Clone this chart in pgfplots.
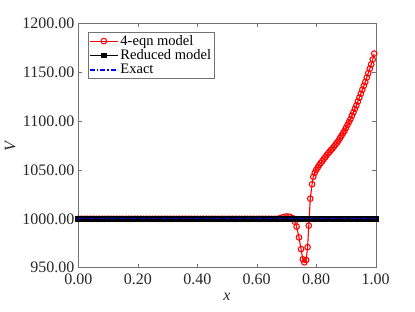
\documentclass[border=0pt]{standalone}
\usepackage{fontspec}
\setmainfont{Liberation Serif}
\usepackage{pgfplots}
\pgfplotsset{compat=1.18}
\begin{document}
\begin{tikzpicture}
\begin{axis}[
  set layers=standard,
  at={(0pt,0pt)}, anchor=south west,
  scale only axis, width=297.4pt, height=244.4pt,
  xmin=0, xmax=1, ymin=950, ymax=1200,
  xtick={0,0.2,0.4,0.6,0.8,1}, ytick={950,1000,...,1200},
  tick align=inside, major tick length=3.5pt,
  axis line style={black!55}, every tick/.style={black!55},
  tick label style={font=\fontsize{16}{18}\selectfont, black!85},
  xticklabel style={yshift=-2.5pt, /pgf/number format/fixed, /pgf/number format/fixed zerofill, /pgf/number format/precision=2},
  yticklabel style={xshift=-0.5pt, /pgf/number format/fixed, /pgf/number format/fixed zerofill, /pgf/number format/precision=2, /pgf/number format/1000 sep={}},
  /pgf/number format/assume math mode=true,
  xlabel={\textit{x}}, ylabel={\textit{V}},
  label style={font=\fontsize{16}{18}\selectfont, black!85},
  xlabel style={at={(axis description cs:0.5,-0.12)}, anchor=center},
  ylabel style={at={(axis description cs:-0.229,0.5)}, anchor=center, rotate=0},
  clip=false,
  legend cell align=left,
  legend style={at={(0.0326,0.964)}, anchor=north west, draw=black!55, font=\fontsize{14.5}{15.5}\selectfont, inner sep=1pt, row sep=-1pt},
  legend image code/.code={\draw[mark repeat=2,mark phase=2,#1] plot coordinates {(0pt,0pt) (14pt,0pt) (28pt,0pt)};},
]
\addplot[red, line width=1.1pt, mark=o, mark size=2.8pt, mark options={line width=1.05pt}] coordinates {
(0.00,1000)(0.01,1000)(0.02,1000)(0.03,1000)(0.04,1000)(0.05,1000)(0.06,1000)(0.07,1000)(0.08,1000)(0.09,1000)
(0.10,1000)(0.11,1000)(0.12,1000)(0.13,1000)(0.14,1000)(0.15,1000)(0.16,1000)(0.17,1000)(0.18,1000)(0.19,1000)
(0.20,1000)(0.21,1000)(0.22,1000)(0.23,1000)(0.24,1000)(0.25,1000)(0.26,1000)(0.27,1000)(0.28,1000)(0.29,1000)
(0.30,1000)(0.31,1000)(0.32,1000)(0.33,1000)(0.34,1000)(0.35,1000)(0.36,1000)(0.37,1000)(0.38,1000)(0.39,1000)
(0.40,1000)(0.41,1000)(0.42,1000)(0.43,1000)(0.44,1000)(0.45,1000)(0.46,1000)(0.47,1000)(0.48,1000)(0.49,1000)
(0.50,1000)(0.51,1000)(0.52,1000)(0.53,1000)(0.54,1000)(0.55,1000)(0.56,1000)(0.57,1000)(0.58,1000)(0.59,1000)
(0.60,1000)(0.61,1000)(0.62,1000)(0.63,1000)(0.64,1000)(0.65,1000)(0.66,1000)(0.67,1000)
(0.68,1000.8)(0.69,1001.8)(0.70,1002.5)(0.71,1002.2)(0.72,1000.8)
(0.728,997)(0.734,992)(0.742,981)(0.749,969)(0.755,958.6)(0.760,955.5)(0.766,957.9)(0.771,971)(0.775,993)
(0.780,1020.6)(0.786,1035.3)(0.790,1043)(0.795,1047)(0.800,1050)(0.805,1052.5)(0.810,1055)(0.815,1057)
(0.820,1059)(0.825,1061)(0.830,1063)(0.835,1065)(0.840,1067)(0.845,1068.5)(0.850,1070.5)(0.855,1072)
(0.860,1074)(0.865,1076)(0.870,1078)(0.875,1080)(0.880,1082.5)(0.885,1085)(0.890,1087.5)(0.895,1090)
(0.900,1093)(0.905,1096)(0.910,1099)(0.915,1102)(0.920,1105.5)(0.925,1109)(0.930,1112.5)(0.935,1116)
(0.940,1120)(0.945,1124)(0.950,1128)(0.955,1132)(0.960,1136)(0.965,1140)(0.970,1144.5)(0.975,1149)
(0.980,1153.5)(0.985,1158)(0.990,1163)(0.995,1169)
};
\addlegendentry{4-eqn model}
\addplot[black, line width=1pt, mark=square*, mark size=2.3pt, mark options={fill=black}] coordinates {
(0.00,1000)(0.01,1000)(0.02,1000)(0.03,1000)(0.04,1000)(0.05,1000)(0.06,1000)(0.07,1000)(0.08,1000)(0.09,1000)
(0.10,1000)(0.11,1000)(0.12,1000)(0.13,1000)(0.14,1000)(0.15,1000)(0.16,1000)(0.17,1000)(0.18,1000)(0.19,1000)
(0.20,1000)(0.21,1000)(0.22,1000)(0.23,1000)(0.24,1000)(0.25,1000)(0.26,1000)(0.27,1000)(0.28,1000)(0.29,1000)
(0.30,1000)(0.31,1000)(0.32,1000)(0.33,1000)(0.34,1000)(0.35,1000)(0.36,1000)(0.37,1000)(0.38,1000)(0.39,1000)
(0.40,1000)(0.41,1000)(0.42,1000)(0.43,1000)(0.44,1000)(0.45,1000)(0.46,1000)(0.47,1000)(0.48,1000)(0.49,1000)
(0.50,1000)(0.51,1000)(0.52,1000)(0.53,1000)(0.54,1000)(0.55,1000)(0.56,1000)(0.57,1000)(0.58,1000)(0.59,1000)
(0.60,1000)(0.61,1000)(0.62,1000)(0.63,1000)(0.64,1000)(0.65,1000)(0.66,1000)(0.67,1000)(0.68,1000)(0.69,1000)
(0.70,1000)(0.71,1000)(0.72,1000)(0.73,1000)(0.74,1000)(0.75,1000)(0.76,1000)(0.77,1000)(0.78,1000)(0.79,1000)
(0.80,1000)(0.81,1000)(0.82,1000)(0.83,1000)(0.84,1000)(0.85,1000)(0.86,1000)(0.87,1000)(0.88,1000)(0.89,1000)
(0.90,1000)(0.91,1000)(0.92,1000)(0.93,1000)(0.94,1000)(0.95,1000)(0.96,1000)(0.97,1000)(0.98,1000)(0.99,1000)
(1.00,1000)
};
\addlegendentry{Reduced model}
\addplot[blue, line width=1.3pt, dash pattern=on 5pt off 2pt on 1.5pt off 2pt, on layer=axis foreground] coordinates {(0,1000)(1,1000)};
\addlegendentry{Exact}
\end{axis}
\path (-78.3pt,-44.3pt) rectangle (336.7pt,267.7pt);
\end{tikzpicture}
\end{document}
